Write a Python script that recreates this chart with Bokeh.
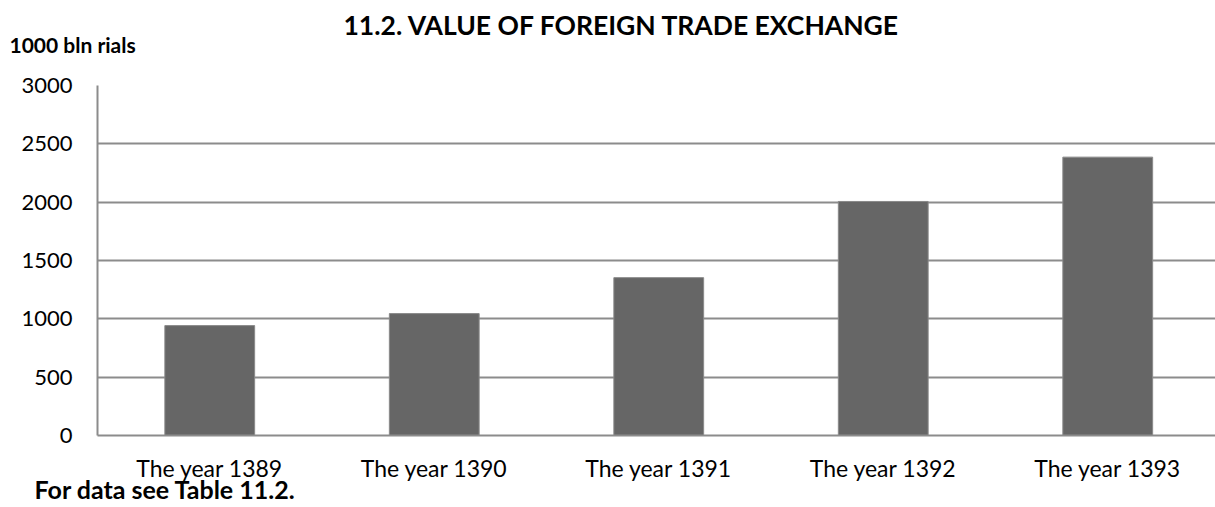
from bokeh.plotting import figure
from bokeh.models import ColumnDataSource, FixedTicker, Title, Range1d
from bokeh.embed import file_html
from bokeh.resources import INLINE

categories = ["The year 1389", "The year 1390", "The year 1391", "The year 1392", "The year 1393"]
values = [942, 1045, 1353, 2006, 2386]
y_ticks = [0, 500, 1000, 1500, 2000, 2500, 3000]

FONT = "Lato"
GRID = "#8c8c8c"

xs = list(range(len(categories)))
src = ColumnDataSource(dict(x=xs, top=values, cat=categories))

p = figure(width=1215, height=507, output_backend="svg", toolbar_location=None, title=None,
           x_range=Range1d(-0.5, 4.48), y_range=Range1d(0, 3000),
           min_border_left=97, min_border_top=85, min_border_right=0, min_border_bottom=72,
           frame_width=1118, frame_height=350)
p.outline_line_color = None

p.vbar(x="x", top="top", width=0.40, source=src, fill_color="#666666",
       line_color="#8a8a8a", line_width=1)

p.xaxis.ticker = FixedTicker(ticks=xs)
p.xaxis.major_label_overrides = {i: c for i, c in enumerate(categories)}
p.xaxis.major_tick_line_color = None
p.xaxis.minor_tick_line_color = None
p.xaxis.axis_line_color = GRID
p.xaxis.axis_line_width = 2
p.xaxis.major_label_standoff = 12
p.xaxis.major_label_text_font = FONT
p.xaxis.major_label_text_font_size = "23px"
p.xaxis.major_label_text_color = "#000000"

p.yaxis.ticker = FixedTicker(ticks=y_ticks)
p.yaxis.major_tick_line_color = None
p.yaxis.minor_tick_line_color = None
p.yaxis.axis_line_color = GRID
p.yaxis.axis_line_width = 2
p.yaxis.major_label_standoff = 19
p.yaxis.major_label_text_font = FONT
p.yaxis.major_label_text_font_size = "22px"
p.yaxis.major_label_text_color = "#000000"

p.xgrid.grid_line_color = None
p.ygrid.grid_line_color = GRID
p.ygrid.grid_line_width = 2

p.add_layout(Title(text="1000 bln rials", align="left", offset=-88, standoff=57,
                   text_font=FONT, text_font_style="bold", text_font_size="21px",
                   text_color="#000000"), "above")
p.add_layout(Title(text="11.2. VALUE OF FOREIGN TRADE EXCHANGE", align="left", offset=246,
                   standoff=-78, text_font=FONT, text_font_style="bold",
                   text_font_size="26.5px", text_color="#000000"), "above")
p.add_layout(Title(text="For data see Table 11.2.", align="left", offset=-63, standoff=-26,
                   text_font=FONT, text_font_style="bold", text_font_size="25px",
                   text_color="#000000"), "below")

open("out.html", "w").write(file_html(p, INLINE))
